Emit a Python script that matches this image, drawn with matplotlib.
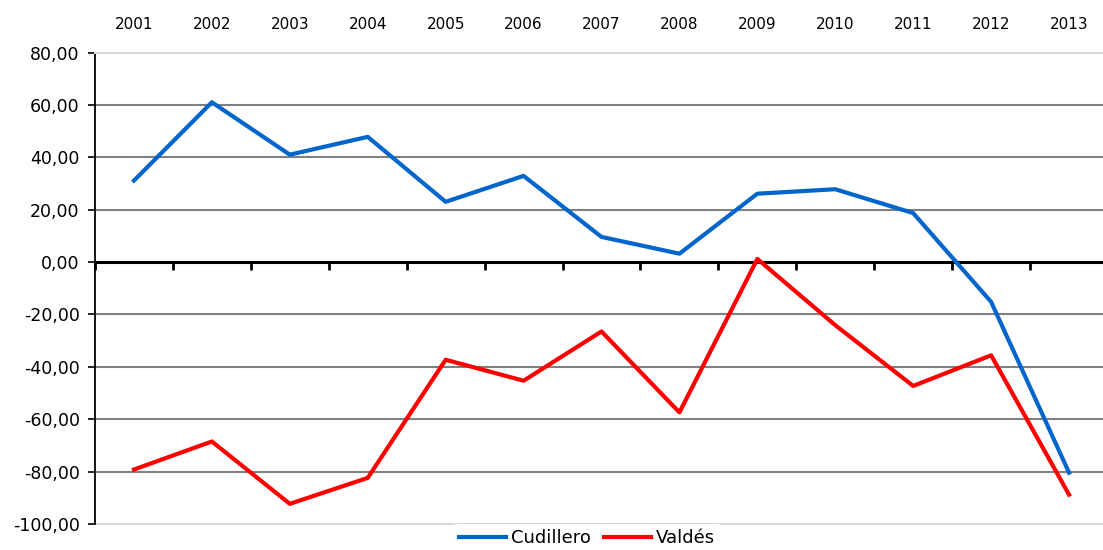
import matplotlib.pyplot as plt
from matplotlib.ticker import FuncFormatter

years = ['2001', '2002', '2003', '2004', '2005', '2006', '2007',
         '2008', '2009', '2010', '2011', '2012', '2013']
cudillero = [31.1, 61.0, 41.0, 47.8, 23.0, 32.9, 9.6, 3.2, 26.1, 27.8, 18.7, -15.2, -80.4]
valdes = [-79.2, -68.5, -92.3, -82.4, -37.3, -45.3, -26.5, -57.4, 1.2, -24.1, -47.3, -35.6, -88.8]

fig = plt.figure(figsize=(11.03, 5.5), dpi=100)
# plot area runs a little past the right edge, like the original
ax = fig.add_axes([95 / 1103, 26 / 550, 1013 / 1103, 471.5 / 550])

x = list(range(len(years)))
ax.plot(x, cudillero, color='#0066CC', lw=3, label='Cudillero', zorder=3)
ax.plot(x, valdes, color='#FF0000', lw=3, label='Valdés', zorder=3)

ax.set_xlim(-0.5, 12.47)
ax.set_ylim(-100, 80)
ax.set_yticks(range(-100, 81, 20))
ax.yaxis.set_major_formatter(FuncFormatter(lambda v, p: f'{v:.2f}'.replace('.', ',')))
ax.tick_params(axis='y', length=5, width=1.2, labelsize=12.5, pad=6)

# inner gridlines only; the plot border is light gray
for v in range(-80, 61, 20):
    if v != 0:
        ax.axhline(v, color='#808080', lw=1.5, zorder=1)

# zero line with category boundary ticks
ax.spines['bottom'].set_position(('data', 0))
ax.spines['bottom'].set_linewidth(2.2)
ax.spines['bottom'].set_zorder(2)
ax.set_xticks([i - 0.5 for i in range(len(years) + 1)])
ax.tick_params(axis='x', length=6, width=2, labelbottom=False)

ax.spines['left'].set_linewidth(1.3)
ax.spines['right'].set_visible(False)
ax.spines['top'].set_color('#D9D9D9')
ax.spines['top'].set_linewidth(1.5)
ax.axhline(-100, color='#D9D9D9', lw=1.5, clip_on=False, zorder=1)

top = ax.secondary_xaxis('top')
top.set_xticks(x)
top.set_xticklabels(years)
top.tick_params(length=0, pad=15, labelsize=11)
top.spines['top'].set_visible(False)

fig.legend(loc='center', bbox_to_anchor=(587 / 1103, 1 - 538 / 550), ncol=2,
           fontsize=13, frameon=True, facecolor='white', edgecolor='none',
           framealpha=1, handlelength=2.6, handletextpad=0.3, columnspacing=0.7,
           borderpad=0.3)

fig.savefig('out.png', dpi=100)
